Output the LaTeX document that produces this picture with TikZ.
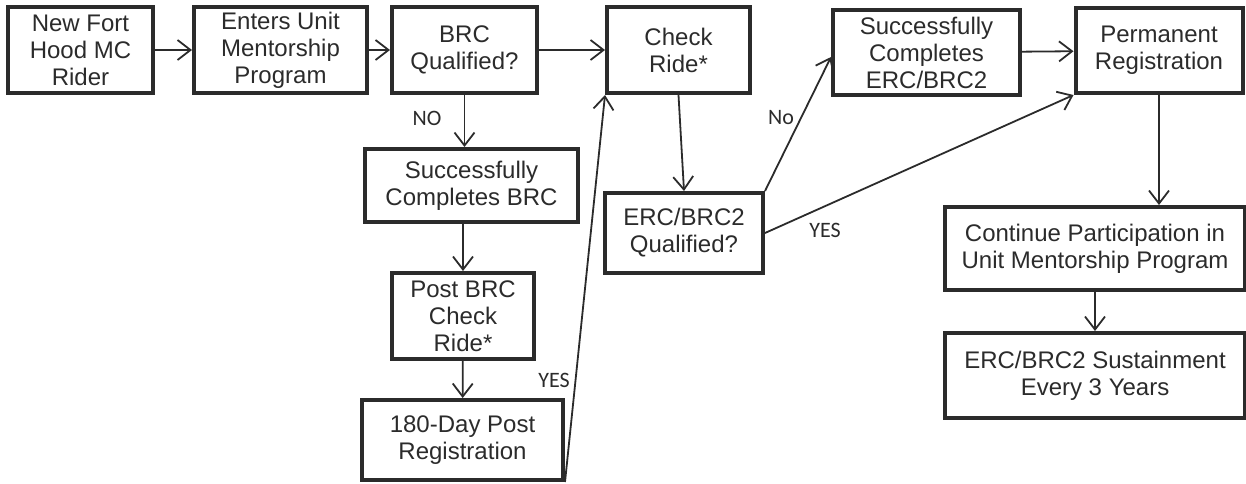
\documentclass[tikz,border=0pt]{standalone}
\usepackage{fontspec}
\setmainfont{Liberation Sans}
\newfontfamily\lblfont{Carlito}
\usetikzlibrary{arrows.meta}
\definecolor{ink}{HTML}{2B2B2B}
\begin{document}
\begin{tikzpicture}[x=0.5pt,y=-0.5pt,
  box/.style={draw=ink, line width=2pt, align=center, inner sep=0pt, text=ink,
    font=\fontsize{12}{13.5}\selectfont},
  sz/.style 2 args={minimum width=#1*0.5pt, minimum height=#2*0.5pt},
  conn/.style={draw=ink, line width=0.9pt,
    -{Straight Barb[length=6.5pt,width=10pt,line width=0.9pt]}},
  lbl/.style={font=\lblfont\fontsize{11}{12}\selectfont, text=ink, inner sep=0pt}]
\useasboundingbox (0,0) rectangle (1246,483);
\node[box, sz={145}{86}] (n1) at (80.5,50) {New Fort\\Hood MC\\Rider};
\node[box, sz={173}{86}] (n2) at (280.5,50) {Enters Unit\\Mentorship\\Program};
\node[box, sz={145}{86}] (n3) at (464.5,50) {BRC\\Qualified?};
\node[box, sz={143}{86}] (n4) at (678.5,50) {Check\\Ride*};
\node[box, sz={213}{73}] (n5) at (471.5,185.5) {Successfully\\Completes BRC};
\node[box, sz={142}{86}] (n6) at (463,316) {Post BRC\\Check\\Ride*};
\node[box, sz={201}{80}] (n7) at (462.5,440) {180-Day Post\\Registration};
\node[box, sz={158}{80}] (n8) at (684,233) {ERC/BRC2\\Qualified?};
\node[box, sz={187}{85}] (n9) at (926.5,52.5) {Successfully\\Completes\\ERC/BRC2};
\node[box, sz={167}{85}] (n10) at (1159,50.5) {Permanent\\Registration};
\node[box, sz={300}{83}] (n11) at (1095,248.5) {Continue Participation in\\Unit Mentorship Program};
\node[box, sz={300}{85}] (n12) at (1095,375.5) {ERC/BRC2 Sustainment\\Every 3 Years};

\draw[conn] (n1) -- (n2);
\draw[conn] (n2) -- (n3);
\draw[conn] (n3) -- (n4);
\draw[conn] (n3.south) -- (n3.south |- n5.north);
\draw[conn] (n6.north |- n5.south) -- (n6.north);
\draw[conn] (n6) -- (n7);
\draw[conn] (n7.south east) -- (n4.south west);
\draw[conn] (n4.south) -- (n8.north);
\draw[conn] (n8.north east) -- ([yshift=-2.25pt]n9.west);
\draw[conn] (n8.east) -- (n10.south west);
\draw[conn] (n9) -- (n10);
\draw[conn] (n10.south) -- (n10.south |- n11.north);
\draw[conn] (n11) -- (n12);

\node[lbl] (lno) at (427,118) {NO};
\node[lbl] (lyes) at (554,380) {YES};
\node[lbl] (lno2) at (781,118) {No};
\node[lbl] (lyes2) at (825,230) {YES};
\end{tikzpicture}
\end{document}
